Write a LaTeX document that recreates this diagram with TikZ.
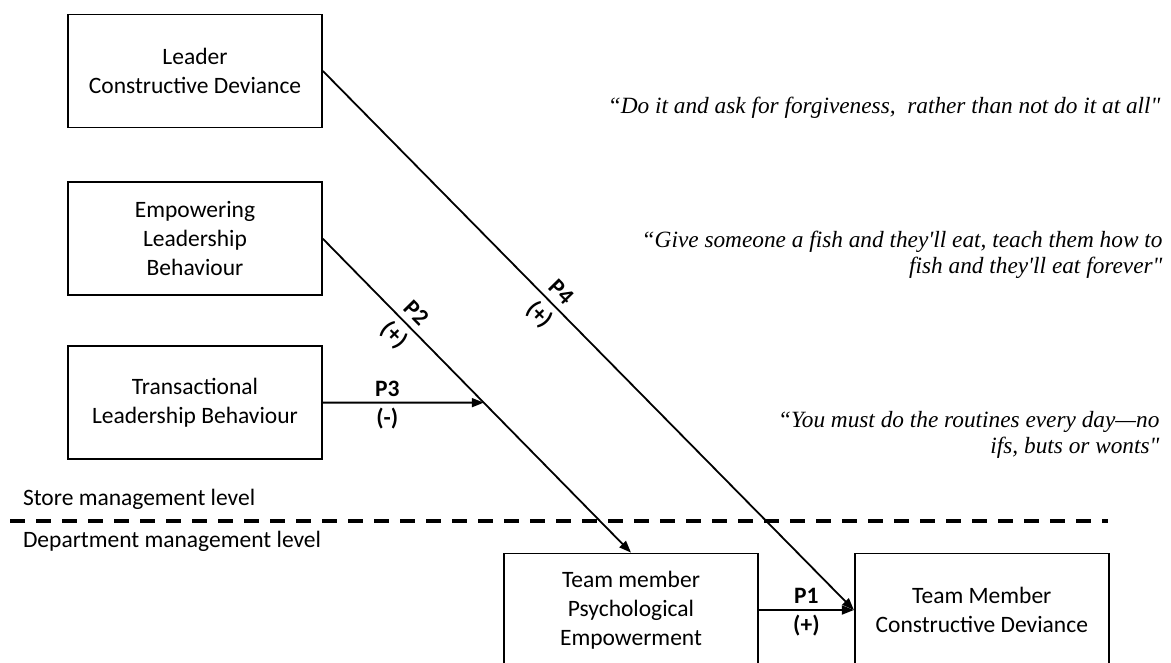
\documentclass[tikz,border=0pt]{standalone}
\usepackage{fontspec}
\setmainfont{Carlito}
\newfontfamily\quotefont{Liberation Serif}
\usetikzlibrary{arrows.meta,positioning,calc}

\begin{document}
\begin{tikzpicture}[x=1pt,y=1pt,>={Triangle[length=12pt,width=9pt]},node distance=53pt,
    construct/.style={draw,line width=1.8pt,minimum width=254pt,minimum height=113pt,align=center,font=\fontsize{23.5}{29}\selectfont},
    plab/.style={font=\fontsize{23.5}{29}\selectfont\bfseries},
    lvl/.style={anchor=west,font=\fontsize{23.5}{29}\selectfont},
    saying/.style={anchor=east,align=right,font=\quotefont\itshape\fontsize{23.3}{25.5}\selectfont},
    divider/.style={line width=4pt,dash pattern=on 15pt off 11pt}]
    \useasboundingbox (0,0) rectangle (1171,-662);
    \clip (0,0) rectangle (1171,-662);

    \node[construct] (lcd) at (195,-71) {Leader\\Constructive Deviance};
    \node[construct] (elb) [below=of lcd] {Empowering\\Leadership\\Behaviour};
    \node[construct] (tlb) [below=49pt of elb] {Transactional\\Leadership Behaviour};
    \node[construct] (tmpe) at (631,-610) {Team member\\Psychological\\Empowerment};
    \node[construct] (tmcd) [right=95pt of tmpe] {Team Member\\Constructive Deviance};

    % levels
    \coordinate (dl) at (10,-521);
    \coordinate (dr) at (1108,-521);
    \draw[divider] (dl) -- (dr);
    \node[lvl] (store) at (19.5,-499) {Store management level};
    \node[lvl] (dept) at (19.5,-541) {Department management level};

    % quotes
    \node[saying] (q1) at (1164,-108) {“Do it and ask for forgiveness,\ \ rather than not do it at all"};
    \node[saying] (q2) at (1166,-255) {“Give someone a fish and they'll eat, teach them how to\\fish and they'll eat forever"};
    \node[saying] (q3) at (1163,-435) {“You must do the routines every day—no\\ifs, buts or wonts"};

    \coordinate (mod) at (intersection of elb.east--tmpe.north and tlb.west--tlb.east);

    \path[->,line width=1.8pt]
    (lcd.east) edge node[plab,sloped,pos=0.43,above=3pt] {P4} node[plab,sloped,pos=0.43,below=2pt] {(+)} (tmcd.west)
    (elb.east) edge node[plab,sloped,pos=0.27,above=3pt] {P2} node[plab,sloped,pos=0.27,below=2pt] {(+)} (tmpe.north)
    (tlb.east) edge node[plab,pos=0.4,above=2pt] {P3} node[plab,pos=0.4,below=1pt] {(-)} (mod)
    (tmpe.east) edge node[plab,above=2pt] {P1} node[plab,below=1pt] {(+)} (tmcd.west)
    ;
\end{tikzpicture}
\end{document}
